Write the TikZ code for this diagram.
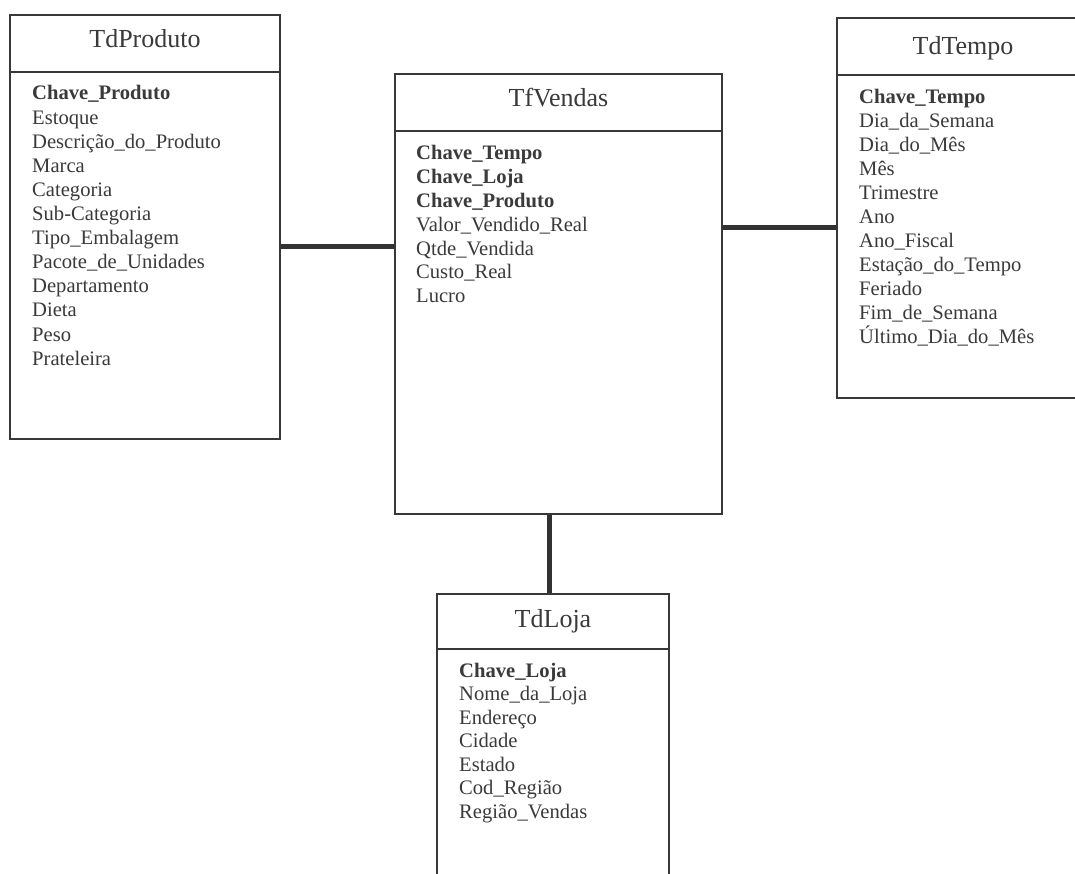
\documentclass[tikz,border=0pt]{standalone}
\usepackage{fontspec}
\setmainfont{Liberation Serif}
\definecolor{ink}{HTML}{383838}
\definecolor{txt}{HTML}{3A3A3A}
\tikzset{
  tbl/.style={draw=ink, line width=1.6pt, fill=none, inner sep=0pt, rectangle},
  divline/.style={draw=ink, line width=1.6pt},
  conn/.style={draw=ink!90!black, line width=5pt},
  ttl/.style={font=\fontsize{26}{28}\selectfont, text=txt, inner sep=0pt, anchor=base},
  attr/.style={font=\fontsize{20.6}{24}\selectfont, text=txt, inner sep=0pt, anchor=base west},
}
\begin{document}
\begin{tikzpicture}[x=1pt,y=-1pt]
\useasboundingbox[fill=white] (0,0) rectangle (1075,874);
% tables
\node[tbl, minimum width=270pt, minimum height=424pt] (P) at (145,227) {};
\node[tbl, minimum width=327pt, minimum height=440pt] (V) at (558.5,294) {};
\node[tbl, minimum width=245pt, minimum height=380pt] (T) at (959.5,208) {};
\node[tbl, minimum width=232pt, minimum height=290pt] (L) at (553,739) {};
% header dividers
\coordinate (Pd) at (0,72);
\coordinate (Vd) at (0,131);
\coordinate (Td) at (0,75);
\coordinate (Ld) at (0,649);
\draw[divline] (P.west |- Pd) -- (P.east |- Pd);
\draw[divline] (V.west |- Vd) -- (V.east |- Vd);
\draw[divline] (T.west |- Td) -- (T.east |- Td);
\draw[divline] (L.west |- Ld) -- (L.east |- Ld);
% titles
\node[ttl] (Pt) at (145,48) {TdProduto};
\node[ttl] (Vt) at (558.5,107) {TfVendas};
\node[ttl] (Tt) at (963,55) {TdTempo};
\node[ttl] (Lt) at (553,627) {TdLoja};
% attributes
\foreach \t [count=\i from 0] in {\textbf{Chave\_Produto}, Estoque, Descrição\_do\_Produto, Marca, Categoria, Sub-Categoria, Tipo\_Embalagem, Pacote\_de\_Unidades, Departamento, Dieta, Peso, Prateleira}
  \node[attr] (P-\i) at (32,100+24.1*\i) {\t};
\foreach \t [count=\i from 0] in {\textbf{Chave\_Tempo}, \textbf{Chave\_Loja}, \textbf{Chave\_Produto}, Valor\_Vendido\_Real, Qtde\_Vendida, Custo\_Real, Lucro}
  \node[attr] (V-\i) at (416,160+23.8*\i) {\t};
\foreach \t [count=\i from 0] in {\textbf{Chave\_Tempo}, Dia\_da\_Semana, Dia\_do\_Mês, Mês, Trimestre, Ano, Ano\_Fiscal, Estação\_do\_Tempo, Feriado, Fim\_de\_Semana, Último\_Dia\_do\_Mês}
  \node[attr] (T-\i) at (859,104+23.9*\i) {\t};
\foreach \t [count=\i from 0] in {\textbf{Chave\_Loja}, Nome\_da\_Loja, Endereço, Cidade, Estado, Cod\_Região, Região\_Vendas}
  \node[attr] (L-\i) at (459,677+23.5*\i) {\t};
% connectors
\draw[conn] ([yshift=-20pt]P.east) -- ([yshift=-20pt]P.east -| V.west);
\draw[conn] ([yshift=-20pt]T.west) -- ([yshift=-20pt]T.west -| V.east);
\draw[conn] ([xshift=-4pt]L.north) -- ([xshift=-4pt]L.north |- V.south);
\end{tikzpicture}
\end{document}
